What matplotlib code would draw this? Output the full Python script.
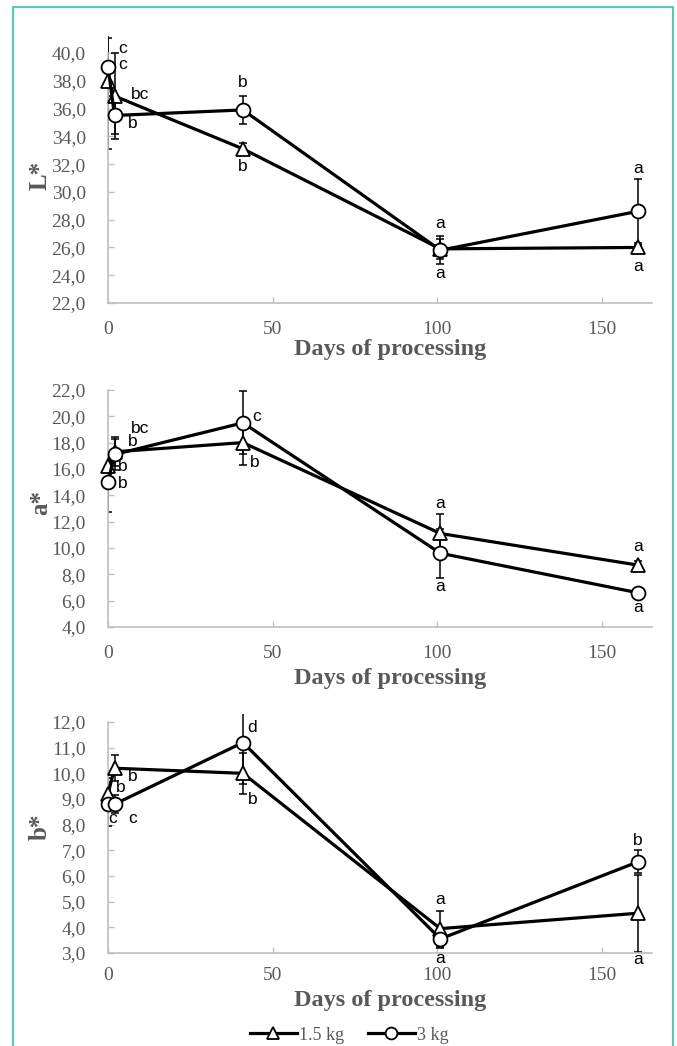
import numpy as np
import matplotlib
matplotlib.use('Agg')
import matplotlib.pyplot as plt
from matplotlib.patches import Rectangle
from matplotlib.lines import Line2D

# days of processing
days = [0, 2, 41, 101, 161]

# L*
l_15 = [38.0, 36.9, 33.1, 25.9, 26.0]
l_15_err = [4.9, 3.1, 0.4, 0.7, 0.2]
l_3 = [39.0, 35.5, 35.9, 25.8, 28.6]
l_3_err = [2.1, 1.3, 1.0, 1.0, 2.3]
l_letters = ['c', 'c', 'bc', 'b', 'b', 'b', 'a', 'a', 'a', 'a']
l_letter_x = [4.6, 4.6, 9.7, 7.6, 41, 41, 101, 101, 161, 161]
l_letter_y = [40.35, 39.2, 37.0, 34.95, 37.85, 31.85, 27.7, 24.1, 31.7, 24.6]

# a*
a_15 = [16.2, 17.3, 18.0, 11.1, 8.7]
a_15_err = [0.6, 1.1, 1.7, 1.5, 0.3]
a_3 = [15.0, 17.1, 19.5, 9.6, 6.6]
a_3_err = [2.3, 1.2, 2.4, 1.85, 0.1]
a_letters = ['bc', 'b', 'b', 'b', 'c', 'b', 'a', 'a', 'a', 'a']
a_letter_x = [9.7, 7.6, 4.6, 4.6, 45.3, 44.7, 101, 101, 161, 161]
a_letter_y = [19.1, 18.05, 16.15, 14.9, 19.95, 16.5, 13.4, 7.05, 10.1, 5.45]

# b*
b_15 = [9.2, 10.2, 10.0, 3.95, 4.55]
b_15_err = [0.6, 0.5, 0.8, 0.7, 1.5]
b_3 = [8.8, 8.8, 11.2, 3.55, 6.55]
b_3_err = [0.85, 0.35, 1.6, 0.35, 0.45]
b_letters = ['d', 'b', 'b', 'c', 'c', 'b', 'a', 'a', 'b', 'a']
b_letter_x = [43.8, 7.6, 4.0, 1.3, 7.6, 44.0, 101, 101, 161, 161]
b_letter_y = [11.77, 9.86, 9.43, 8.26, 8.26, 9.0, 5.07, 2.8, 7.4, 2.73]

series_names = ['1.5 kg', '3 kg']

GRAY_TXT = '#595959'
GRAY_AX = '#bfbfbf'
SERIF = 'Liberation Serif'
SANS = 'Liberation Sans'


def fmt_comma(v):
    return f'{v:.1f}'.replace('.', ',')


def draw_panel(ax, y15, e15, y3, e3, letters, lx, ly, ylabel, ylim, yticks, lab_y, xlab_y, xpad):
    # error bars below the markers
    ax.errorbar(days, y15, yerr=e15, fmt='none', ecolor='black', elinewidth=1.1,
                capsize=3, capthick=1.1, zorder=2)
    ax.errorbar(days, y3, yerr=e3, fmt='none', ecolor='black', elinewidth=1.1,
                capsize=3, capthick=1.1, zorder=2)
    ax.plot(days, y15, color='black', lw=2.3, marker='^', ms=10.5,
            mfc='white', mec='black', mew=1.3, zorder=3, clip_on=False)
    ax.plot(days, y3, color='black', lw=2.3, marker='o', ms=10,
            mfc='white', mec='black', mew=1.3, zorder=4, clip_on=False)

    for t, x, y in zip(letters, lx, ly):
        ax.text(x, y, t, ha='center', va='center', fontsize=12.5,
                family=SANS, color='black', zorder=5, clip_on=False)

    ax.set_xlim(0, 165.3)
    ax.set_ylim(*ylim)
    ax.set_xticks([0, 50, 100, 150])
    ax.set_xticklabels(['0', '50', '100', '150'], family=SERIF, fontsize=14, color=GRAY_TXT)
    ax.set_yticks(yticks)
    ax.set_yticklabels([fmt_comma(v) for v in yticks], family=SERIF, fontsize=14, color=GRAY_TXT)
    ax.tick_params(axis='both', direction='in', length=4, width=1, color=GRAY_AX)
    ax.tick_params(axis='y', pad=16)
    ax.tick_params(axis='x', pad=xpad)

    for s in ['top', 'right']:
        ax.spines[s].set_visible(False)
    for s in ['left', 'bottom']:
        ax.spines[s].set_color(GRAY_AX)
        ax.spines[s].set_linewidth(1.2)
    ax.spines['left'].set_bounds(yticks[0], yticks[-1])

    ax.set_ylabel(ylabel, family=SERIF, fontsize=18, fontweight='bold', color=GRAY_TXT)
    ax.yaxis.set_label_coords(-0.124, lab_y)
    ax.yaxis.label.set_va('center')
    ax.set_xlabel('Days of processing', family=SERIF, fontsize=17.5, fontweight='bold', color=GRAY_TXT)
    ax.xaxis.set_label_coords(0.518, xlab_y)
    ax.xaxis.label.set_va('center')


fig = plt.figure(figsize=(6.77, 10.46), dpi=100)

ax1 = fig.add_axes([0.1595, 0.7103, 0.8035, 0.255])
draw_panel(ax1, l_15, l_15_err, l_3, l_3_err, l_letters, l_letter_x, l_letter_y,
           'L*', (22, 41.2), np.arange(22, 40.1, 2), 0.48, -0.176, 13)

ax2 = fig.add_axes([0.1595, 0.4006, 0.8035, 0.2304])
draw_panel(ax2, a_15, a_15_err, a_3, a_3_err, a_letters, a_letter_x, a_letter_y,
           'a*', (4, 22.3), np.arange(4, 22.1, 2), 0.515, -0.212, 13)

ax3 = fig.add_axes([0.1595, 0.0889, 0.8035, 0.2282])
draw_panel(ax3, b_15, b_15_err, b_3, b_3_err, b_letters, b_letter_x, b_letter_y,
           'b*', (3, 12.3), np.arange(3, 12.1, 1), 0.528, -0.197, 10)

handles = [
    Line2D([], [], color='black', lw=2.3, marker='^', ms=8.5, mfc='white', mec='black', mew=1.3),
    Line2D([], [], color='black', lw=2.3, marker='o', ms=8.5, mfc='white', mec='black', mew=1.3),
]
leg = fig.legend(handles, series_names, loc='center', bbox_to_anchor=(0.516, 0.0105),
                 ncol=2, frameon=False, handlelength=2.6, columnspacing=1.3,
                 handletextpad=0.15, prop={'family': SERIF, 'size': 13})
for t in leg.get_texts():
    t.set_color(GRAY_TXT)

# teal frame around the figure
frame = Rectangle((13 / 677, -0.02), 660 / 677, 1 - 7 / 1046 + 0.02,
                  transform=fig.transFigure, fill=False, edgecolor='#2ec4ac', lw=1.2)
fig.patches.append(frame)

fig.savefig('out.png', dpi=100)
